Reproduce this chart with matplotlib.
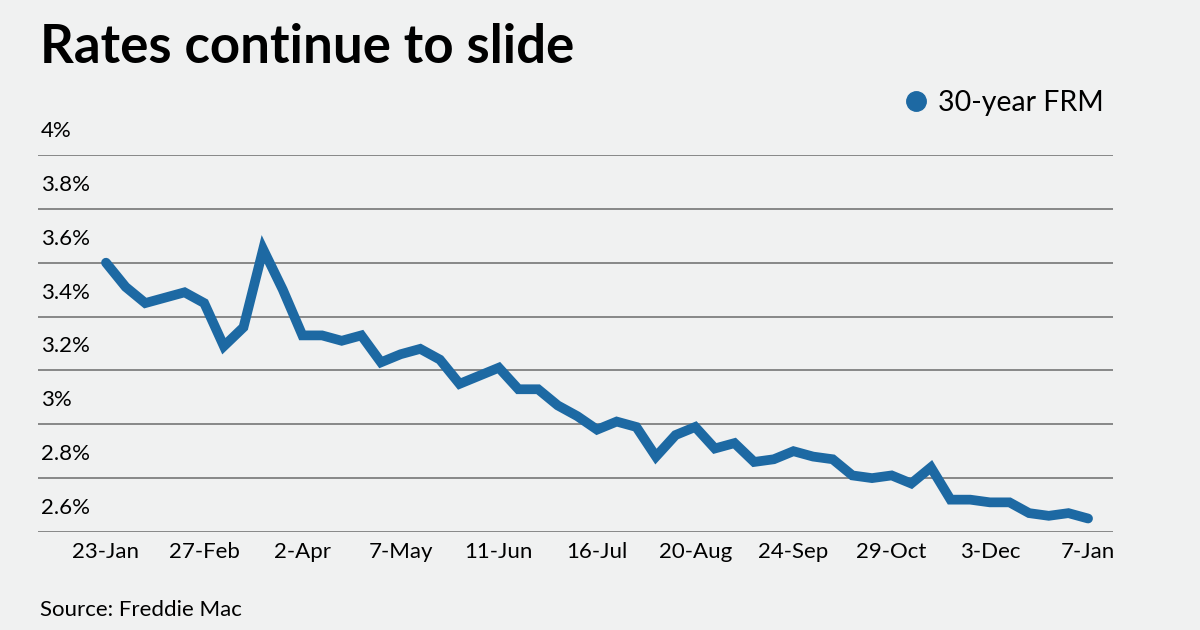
import matplotlib.pyplot as plt
from matplotlib import transforms

# weekly 30-year fixed rate, Freddie Mac, 23-Jan-2020 .. 7-Jan-2021
rates = [3.60, 3.51, 3.45, 3.47, 3.49, 3.45, 3.29, 3.36, 3.65, 3.50,
         3.33, 3.33, 3.31, 3.33, 3.23, 3.26, 3.28, 3.24, 3.15, 3.18,
         3.21, 3.13, 3.13, 3.07, 3.03, 2.98, 3.01, 2.99, 2.88, 2.96,
         2.99, 2.91, 2.93, 2.86, 2.87, 2.90, 2.88, 2.87, 2.81, 2.80,
         2.81, 2.78, 2.84, 2.72, 2.72, 2.71, 2.71, 2.67, 2.66, 2.67,
         2.65]
tick_pos = [0, 5, 10, 15, 20, 25, 30, 35, 40, 45, 50]
tick_labels = ['23-Jan', '27-Feb', '2-Apr', '7-May', '11-Jun', '16-Jul',
               '20-Aug', '24-Sep', '29-Oct', '3-Dec', '7-Jan']
y_ticks = [2.6, 2.8, 3.0, 3.2, 3.4, 3.6, 3.8, 4.0]
y_labels = ['2.6%', '2.8%', '3%', '3.2%', '3.4%', '3.6%', '3.8%', '4%']

bg = '#f0f1f1'
blue = '#1d69a3'
plt.rcParams['font.family'] = ['Lato', 'DejaVu Sans']

fig = plt.figure(figsize=(12, 6.3), dpi=100, facecolor=bg)
ax = fig.add_axes([0.0317, 0.1556, 0.8958, 0.5984], facecolor=bg)

ax.plot(range(len(rates)), rates, color=blue, lw=7,
        solid_capstyle='round', solid_joinstyle='miter', label='30-year FRM')

ax.set_xlim(-3.46, 51.27)
ax.set_ylim(2.6, 4.0)
ax.set_yticks(y_ticks)
ax.yaxis.grid(True, color='#7f7f7f', lw=1.3)
ax.set_axisbelow(True)
ax.tick_params(axis='y', length=0, labelleft=False)
ax.set_xticks(tick_pos)
ax.set_xticklabels(tick_labels, fontsize=16)
ax.tick_params(axis='x', length=0, pad=7)
for s in ax.spines.values():
    s.set_visible(False)

# y labels sit above their gridlines, left aligned
tr = transforms.offset_copy(ax.get_yaxis_transform(), fig=fig, x=3, y=18, units='dots')
for v, lab in zip(y_ticks, y_labels):
    ax.text(0, v, lab, transform=tr, ha='left', va='baseline', fontsize=16)

fig.text(0.033, 0.9, 'Rates continue to slide', fontsize=38, weight='bold',
         ha='left', va='baseline')
fig.text(0.033, 0.022, 'Source: Freddie Mac', fontsize=16, ha='left', va='baseline')

leg = fig.legend(handles=ax.get_lines(), loc='upper right', bbox_to_anchor=(0.941, 0.898),
                 frameon=False, fontsize=20.5, handlelength=0, handletextpad=0.75,
                 markerscale=1)
for h in leg.legend_handles:
    h.set_marker('o')
    h.set_markersize(14)
    h.set_linestyle('')

fig.savefig('out.png', dpi=100, facecolor=bg)
